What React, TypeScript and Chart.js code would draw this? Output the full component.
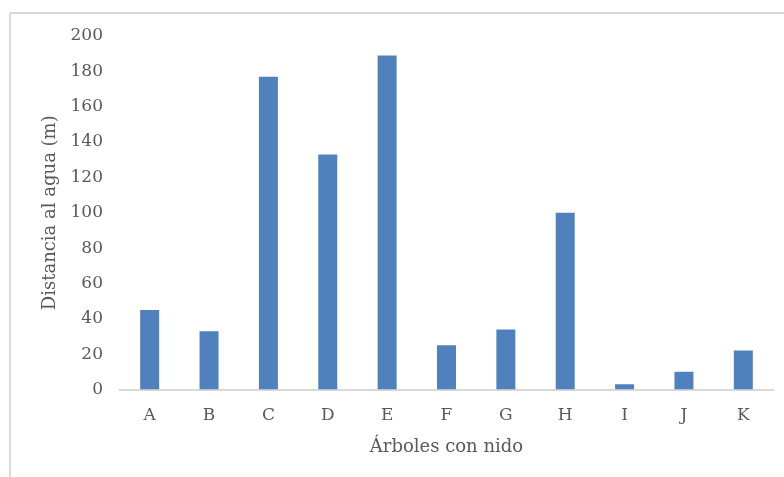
import { useEffect, useRef } from "react";
import { Chart, registerables } from "chart.js";

Chart.register(...registerables);

// Distance from each nesting tree to the nearest water (metres)
const categories = ["A", "B", "C", "D", "E", "F", "G", "H", "I", "J", "K"];
const distances = [45, 33, 177, 133, 189, 25, 34, 100, 3, 10, 22];

const yMin = 0;
const yMax = 200;
const yStep = 20;

const xTitle = "Árboles con nido";
const yTitle = "Distancia al agua (m)";

const textColor = "#595959";
const barColor = "#4f81bd";
const lineColor = "#d9d9d9";
const fontFamily = "'DejaVu Serif', 'Liberation Serif', serif";

export default function App() {
  const canvasRef = useRef<HTMLCanvasElement | null>(null);

  useEffect(() => {
    const canvas = canvasRef.current;
    if (!canvas) return;
    const chart = new Chart(canvas, {
      type: "bar",
      data: {
        labels: categories,
        datasets: [
          {
            data: distances,
            backgroundColor: barColor,
            borderWidth: 0,
            categoryPercentage: 1,
            barPercentage: 0.32,
          },
        ],
      },
      options: {
        animation: false,
        responsive: false,
        maintainAspectRatio: false,
        layout: { padding: { left: 0, right: 11, top: 36, bottom: 0 } },
        plugins: {
          legend: { display: false },
          tooltip: { enabled: false },
          title: { display: false },
        },
        scales: {
          x: {
            grid: { display: false, drawTicks: false },
            border: { display: true, color: lineColor, width: 2 },
            ticks: {
              color: textColor,
              padding: 16,
              font: { family: fontFamily, size: 17 },
              maxRotation: 0,
              autoSkip: false,
            },
            title: {
              display: true,
              text: xTitle,
              color: textColor,
              font: { family: fontFamily, size: 18 },
              padding: { top: 0, bottom: 19 },
            },
            afterFit: (scale: any) => {
              scale.height = 87.5;
            },
          },
          y: {
            min: yMin,
            max: yMax,
            grid: { display: false, drawTicks: false },
            border: { display: false },
            ticks: {
              stepSize: yStep,
              color: textColor,
              padding: 17,
              font: { family: fontFamily, size: 17 },
            },
            title: {
              display: true,
              text: yTitle,
              color: textColor,
              font: { family: fontFamily, size: 18 },
              padding: { top: 40, bottom: 0 },
            },
            afterFit: (scale: any) => {
              scale.width = 120;
            },
          },
        },
      },
    });
    return () => chart.destroy();
  }, []);

  return (
    <div
      style={{
        position: "absolute",
        left: 0,
        top: 0,
        width: 784,
        height: 477,
        overflow: "hidden",
        background: "#ffffff",
      }}
    >
      <div
        style={{
          position: "absolute",
          left: 9,
          top: 12,
          width: 820,
          height: 520,
          border: `2px solid ${lineColor}`,
          boxSizing: "border-box",
        }}
      />
      <canvas
        ref={canvasRef}
        width={784}
        height={477}
        style={{ position: "absolute", left: 0, top: 0, width: 784, height: 477 }}
      />
    </div>
  );
}
